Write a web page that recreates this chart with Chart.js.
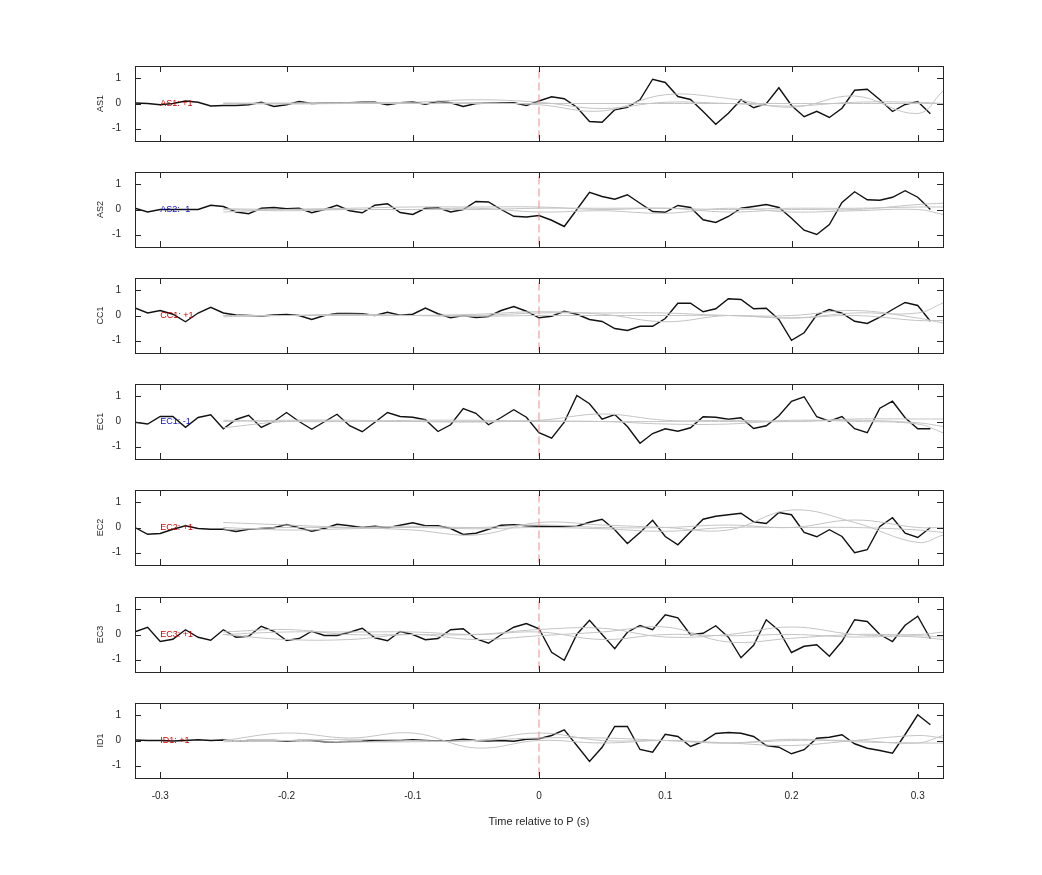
<!DOCTYPE html>
<html>
<head>
<meta charset="utf-8">
<script src="https://cdn.jsdelivr.net/npm/chart.js@4/dist/chart.umd.min.js"></script>
<style>
  body { margin: 0; background: #fff; }
  #wrap { position: relative; width: 1042px; height: 875px; }
  #wrap div { position: absolute; left: 0; width: 1042px; }
</style>
</head>
<body>
<div id="wrap"></div>
<script>
// 채널 이름, 부호, 라벨 색
var channels = ['AS1', 'AS2', 'CC1', 'EC1', 'EC2', 'EC3', 'ID1'];
var signs = ['+1', '-1', '+1', '-1', '+1', '+1', '+1'];
var signColors = ['#d40000', '#1010c8', '#d40000', '#1010c8', '#d40000', '#d40000', '#d40000'];

var times = [-0.32, -0.31, -0.30, -0.29, -0.28, -0.27, -0.26, -0.25, -0.24, -0.23, -0.22, -0.21,
	-0.20, -0.19, -0.18, -0.17, -0.16, -0.15, -0.14, -0.13, -0.12, -0.11, -0.10, -0.09, -0.08,
	-0.07, -0.06, -0.05, -0.04, -0.03, -0.02, -0.01, 0.00, 0.01, 0.02, 0.03, 0.04, 0.05, 0.06,
	0.07, 0.08, 0.09, 0.10, 0.11, 0.12, 0.13, 0.14, 0.15, 0.16, 0.17, 0.18, 0.19, 0.20, 0.21,
	0.22, 0.23, 0.24, 0.25, 0.26, 0.27, 0.28, 0.29, 0.30, 0.31];
var greyTimes = [-0.25, -0.20, -0.15, -0.10, -0.05, 0.00, 0.05, 0.10, 0.15, 0.20, 0.25, 0.30, 0.32];
var xTicks = [-0.3, -0.2, -0.1, 0, 0.1, 0.2, 0.3];
var yTicks = [-1, 0, 1];

// 검은 선 (각 채널 평균 파형)
var traces = [
	[0.02, 0.0, -0.05, 0.0, 0.1, 0.05, -0.1, -0.08, -0.08, -0.05, 0.05, -0.12, -0.05, 0.08, 0.0, 0.02,
	 0.03, 0.03, 0.05, 0.05, -0.05, 0.03, 0.06, -0.03, 0.08, 0.03, -0.12, 0.0, 0.02, 0.03, 0.03, -0.08,
	 0.1, 0.27, 0.19, -0.15, -0.72, -0.75, -0.25, -0.15, 0.15, 0.97, 0.84, 0.28, 0.16, -0.32, -0.83, -0.39,
	 0.15, -0.17, -0.01, 0.63, -0.08, -0.53, -0.31, -0.56, -0.19, 0.53, 0.57, 0.15, -0.32, -0.04, 0.08, -0.41],
	[0.05, -0.1, 0.0, 0.0, 0.0, 0.0, 0.17, 0.12, -0.1, -0.17, 0.05, 0.08, 0.03, 0.05, -0.13, 0.0,
	 0.17, -0.05, -0.13, 0.17, 0.23, -0.12, -0.2, 0.05, 0.07, -0.1, 0.0, 0.32, 0.3, 0.0, -0.27, -0.3,
	 -0.24, -0.43, -0.68, 0.0, 0.69, 0.52, 0.41, 0.59, 0.25, -0.08, -0.11, 0.16, 0.08, -0.41, -0.52, -0.28,
	 0.05, 0.12, 0.2, 0.08, -0.35, -0.83, -1.0, -0.6, 0.28, 0.71, 0.39, 0.37, 0.49, 0.75, 0.49, 0.0],
	[0.3, 0.1, 0.2, 0.05, -0.25, 0.1, 0.33, 0.1, 0.02, 0.0, -0.02, 0.02, 0.04, 0.0, -0.16, 0.0,
	 0.08, 0.08, 0.07, 0.0, 0.13, 0.01, 0.05, 0.3, 0.07, -0.09, 0.0, -0.08, -0.04, 0.2, 0.36, 0.17,
	 -0.09, -0.03, 0.17, 0.05, -0.16, -0.24, -0.52, -0.6, -0.43, -0.43, -0.12, 0.49, 0.49, 0.15, 0.27, 0.67,
	 0.64, 0.27, 0.29, -0.16, -0.99, -0.69, 0.03, 0.24, 0.09, -0.23, -0.32, -0.07, 0.24, 0.52, 0.4, -0.23],
	[-0.03, -0.1, 0.2, 0.2, -0.23, 0.16, 0.27, -0.29, 0.08, 0.25, -0.24, 0.0, 0.36, 0.0, -0.31, -0.01,
	 0.29, -0.17, -0.41, -0.03, 0.36, 0.2, 0.17, 0.07, -0.4, -0.13, 0.52, 0.33, -0.13, 0.16, 0.47, 0.17,
	 -0.45, -0.67, -0.03, 1.04, 0.71, 0.09, 0.28, -0.2, -0.87, -0.48, -0.29, -0.39, -0.25, 0.19, 0.17, 0.09,
	 0.15, -0.28, -0.17, 0.23, 0.81, 0.99, 0.19, 0.01, 0.2, -0.29, -0.45, 0.53, 0.81, 0.15, -0.29, -0.29],
	[0.0, -0.27, -0.24, -0.07, 0.07, -0.04, -0.07, -0.07, -0.16, -0.07, -0.04, -0.01, 0.12, -0.01, -0.15, -0.04,
	 0.13, 0.07, 0.0, 0.05, -0.01, 0.09, 0.19, 0.07, 0.07, -0.04, -0.28, -0.23, -0.07, 0.09, 0.11, 0.07,
	 0.05, 0.04, 0.04, 0.05, 0.21, 0.33, -0.09, -0.64, -0.2, 0.29, -0.36, -0.69, -0.17, 0.33, 0.45, 0.51,
	 0.57, 0.23, 0.16, 0.6, 0.51, -0.2, -0.37, -0.09, -0.36, -1.01, -0.89, 0.04, 0.39, -0.23, -0.4, 0.0],
	[0.11, 0.29, -0.28, -0.19, 0.19, -0.11, -0.23, 0.19, -0.11, -0.07, 0.33, 0.13, -0.24, -0.16, 0.13, -0.04,
	 -0.04, 0.09, 0.25, -0.13, -0.25, 0.12, 0.0, -0.21, -0.16, 0.19, 0.23, -0.17, -0.35, -0.01, 0.29, 0.44,
	 0.23, -0.71, -1.03, 0.01, 0.57, 0.0, -0.57, 0.09, 0.36, 0.19, 0.79, 0.67, -0.01, 0.05, 0.35, -0.11,
	 -0.93, -0.43, 0.59, 0.16, -0.72, -0.47, -0.41, -0.87, -0.27, 0.59, 0.52, 0.0, -0.28, 0.37, 0.73, -0.17],
	[0.02, 0.0, 0.0, -0.02, 0.0, 0.03, 0.0, 0.02, -0.03, 0.0, 0.0, 0.0, -0.02, 0.0, 0.0, -0.05,
	 -0.05, -0.04, -0.03, 0.0, 0.0, 0.0, 0.03, 0.0, -0.02, 0.0, 0.05, 0.0, -0.02, 0.0, -0.03, 0.05,
	 0.07, 0.2, 0.43, -0.2, -0.84, -0.27, 0.56, 0.56, -0.36, -0.47, 0.25, 0.16, -0.24, -0.04, 0.28, 0.32,
	 0.29, 0.16, -0.2, -0.27, -0.53, -0.37, 0.09, 0.13, 0.23, -0.13, -0.31, -0.4, -0.51, 0.24, 1.03, 0.63]
];

// 회색 선 (비교 파형들), greyTimes 기준
var greyTraces = [
	[[0.0, 0.02, 0.03, 0.05, 0.15, 0.05, -0.2, 0.05, 0.0, -0.1, 0.05, 0.05, 0.0],
	 [0.0, -0.02, 0.0, 0.0, 0.03, -0.05, -0.3, 0.35, 0.2, -0.15, 0.3, -0.4, 0.5],
	 [0.02, 0.0, 0.02, 0.0, 0.0, 0.0, 0.0, 0.0, 0.0, 0.0, 0.0, 0.0, 0.0]],
	[[-0.1, 0.0, 0.05, 0.1, 0.1, 0.1, 0.0, 0.05, -0.1, 0.0, 0.0, 0.2, 0.25],
	 [0.0, -0.05, 0.0, 0.0, 0.05, -0.1, -0.05, -0.15, 0.05, -0.1, -0.05, 0.0, -0.2],
	 [0.03, 0.0, 0.0, 0.0, 0.0, 0.05, 0.05, 0.05, 0.0, 0.05, 0.05, 0.1, 0.1]],
	[[0.0, 0.0, 0.0, 0.0, 0.05, 0.15, 0.05, -0.25, 0.0, -0.1, 0.1, 0.1, 0.5],
	 [-0.05, 0.0, 0.05, 0.0, 0.0, 0.1, 0.1, 0.1, 0.0, 0.0, 0.2, -0.1, -0.3],
	 [0.0, 0.0, 0.0, 0.0, -0.03, 0.0, 0.0, 0.0, 0.0, -0.1, 0.0, -0.2, -0.2]],
	[[0.05, 0.0, 0.0, 0.05, 0.05, 0.05, 0.3, 0.05, 0.0, 0.0, 0.1, 0.1, 0.1],
	 [-0.25, 0.0, 0.0, 0.0, 0.0, 0.0, 0.0, -0.1, -0.1, 0.05, 0.0, -0.1, -0.45],
	 [0.0, 0.05, 0.05, 0.0, -0.02, 0.02, 0.0, 0.0, 0.05, 0.0, 0.05, -0.05, -0.2]],
	[[0.2, 0.1, 0.0, -0.1, -0.3, 0.2, 0.1, 0.0, -0.1, 0.7, 0.2, -0.6, -0.3],
	 [-0.1, 0.0, 0.0, 0.05, 0.0, 0.1, 0.0, 0.0, 0.1, 0.0, 0.3, 0.0, 0.0],
	 [0.0, -0.1, -0.05, 0.0, -0.05, 0.0, -0.05, -0.15, 0.0, 0.0, 0.0, -0.1, -0.2]],
	[[0.1, 0.2, 0.0, 0.0, 0.0, 0.2, 0.25, -0.1, 0.0, 0.3, 0.0, -0.1, -0.2],
	 [0.0, -0.2, -0.2, 0.0, -0.2, -0.05, 0.1, 0.3, -0.3, -0.15, 0.0, 0.0, 0.1],
	 [0.0, 0.1, 0.1, 0.1, 0.0, 0.1, -0.2, 0.0, -0.05, 0.0, -0.1, -0.05, -0.1]],
	[[0.0, 0.3, 0.1, 0.3, -0.3, 0.0, -0.1, 0.0, -0.1, -0.2, 0.0, 0.2, 0.1],
	 [0.0, 0.0, 0.05, 0.0, 0.0, 0.3, 0.0, 0.0, -0.1, 0.0, 0.0, -0.1, 0.2],
	 [-0.05, 0.0, -0.05, -0.05, 0.0, 0.1, 0.1, 0.0, -0.1, 0.05, -0.05, -0.1, -0.1]]
];

var frameAndLabels = {
	id: 'frameAndLabels',
	afterDraw: function(chart) {
		var c = chart.ctx, a = chart.chartArea, xs = chart.scales.x, ys = chart.scales.y;
		c.save();
		c.strokeStyle = '#262626';
		c.lineWidth = 1;
		c.strokeRect(a.left + 0.5, a.top + 0.5, a.right - a.left, a.bottom - a.top);
		c.beginPath();
		xTicks.forEach(function(t) {
			var px = Math.round(xs.getPixelForValue(t)) + 0.5;
			c.moveTo(px, a.top); c.lineTo(px, a.top + 6);
			c.moveTo(px, a.bottom); c.lineTo(px, a.bottom - 6);
		});
		yTicks.forEach(function(t) {
			var py = Math.round(ys.getPixelForValue(t)) + 0.5;
			c.moveTo(a.left, py); c.lineTo(a.left + 6, py);
			c.moveTo(a.right, py); c.lineTo(a.right - 6, py);
		});
		c.stroke();
		var i = chart.options.plugins.frameAndLabels.index;
		c.fillStyle = signColors[i];
		c.font = '9px "Liberation Sans", Arial, sans-serif';
		c.textBaseline = 'middle';
		c.fillText(channels[i] + ': ' + signs[i], xs.getPixelForValue(-0.3), ys.getPixelForValue(0));
		c.restore();
	}
};

var wrap = document.getElementById('wrap');
var font = { family: '"Liberation Sans", Arial, sans-serif', size: 10 };

channels.forEach(function(name, i) {
	var last = i === channels.length - 1;
	var plotTop = 65.5 + i * 106.2;
	var h = last ? 142 : 99;
	var div = document.createElement('div');
	div.style.top = (plotTop - 12) + 'px';
	div.style.height = h + 'px';
	div.innerHTML = '<canvas></canvas>';
	wrap.appendChild(div);

	var datasets = [{
		data: [{ x: 0, y: -1.4 }, { x: 0, y: 1.4 }],
		borderColor: '#ec8a8a', borderWidth: 1, borderDash: [8, 4], pointRadius: 0
	}];
	greyTraces[i].forEach(function(g) {
		datasets.push({
			data: greyTimes.map(function(t, k) { return { x: t, y: g[k] }; }),
			borderColor: '#c4c4c4', borderWidth: 1, pointRadius: 0, tension: 0.4
		});
	});
	datasets.push({
		data: times.map(function(t, k) { return { x: t, y: traces[i][k] }; }),
		borderColor: '#111', borderWidth: 1.4, pointRadius: 0, tension: 0
	});

	new Chart(div.querySelector('canvas'), {
		type: 'line',
		data: { datasets: datasets },
		plugins: [frameAndLabels],
		options: {
			responsive: true, maintainAspectRatio: false, animation: false,
			layout: { padding: { left: 95, right: 1042 - 943, top: 8, bottom: last ? 0 : 8 } },
			plugins: { legend: { display: false }, tooltip: { enabled: false }, frameAndLabels: { index: i } },
			scales: {
				x: {
					type: 'linear', min: -0.32, max: 0.32,
					grid: { display: false }, border: { display: false },
					afterBuildTicks: function(s) { s.ticks = xTicks.map(function(v) { return { value: v }; }); },
					ticks: { display: last, color: '#262626', font: font, padding: 4, maxRotation: 0,
						callback: function(v) { return String(Math.round(v * 10) / 10); } },
					title: { display: last, text: 'Time relative to P (s)', color: '#262626', font: { family: font.family, size: 11 }, padding: { top: 8 } },
					afterFit: function(s) { s.height = last ? 55 : 0; }
				},
				y: {
					min: -1.5, max: 1.5,
					grid: { display: false }, border: { display: false },
					afterBuildTicks: function(s) { s.ticks = yTicks.map(function(v) { return { value: v }; }); },
					ticks: { color: '#262626', font: font, padding: 6 },
					title: { display: true, text: name, color: '#262626', font: { family: font.family, size: 9 }, padding: 0 },
					afterFit: function(s) { s.width = 40; }
				}
			}
		}
	});
});
</script>
</body>
</html>
